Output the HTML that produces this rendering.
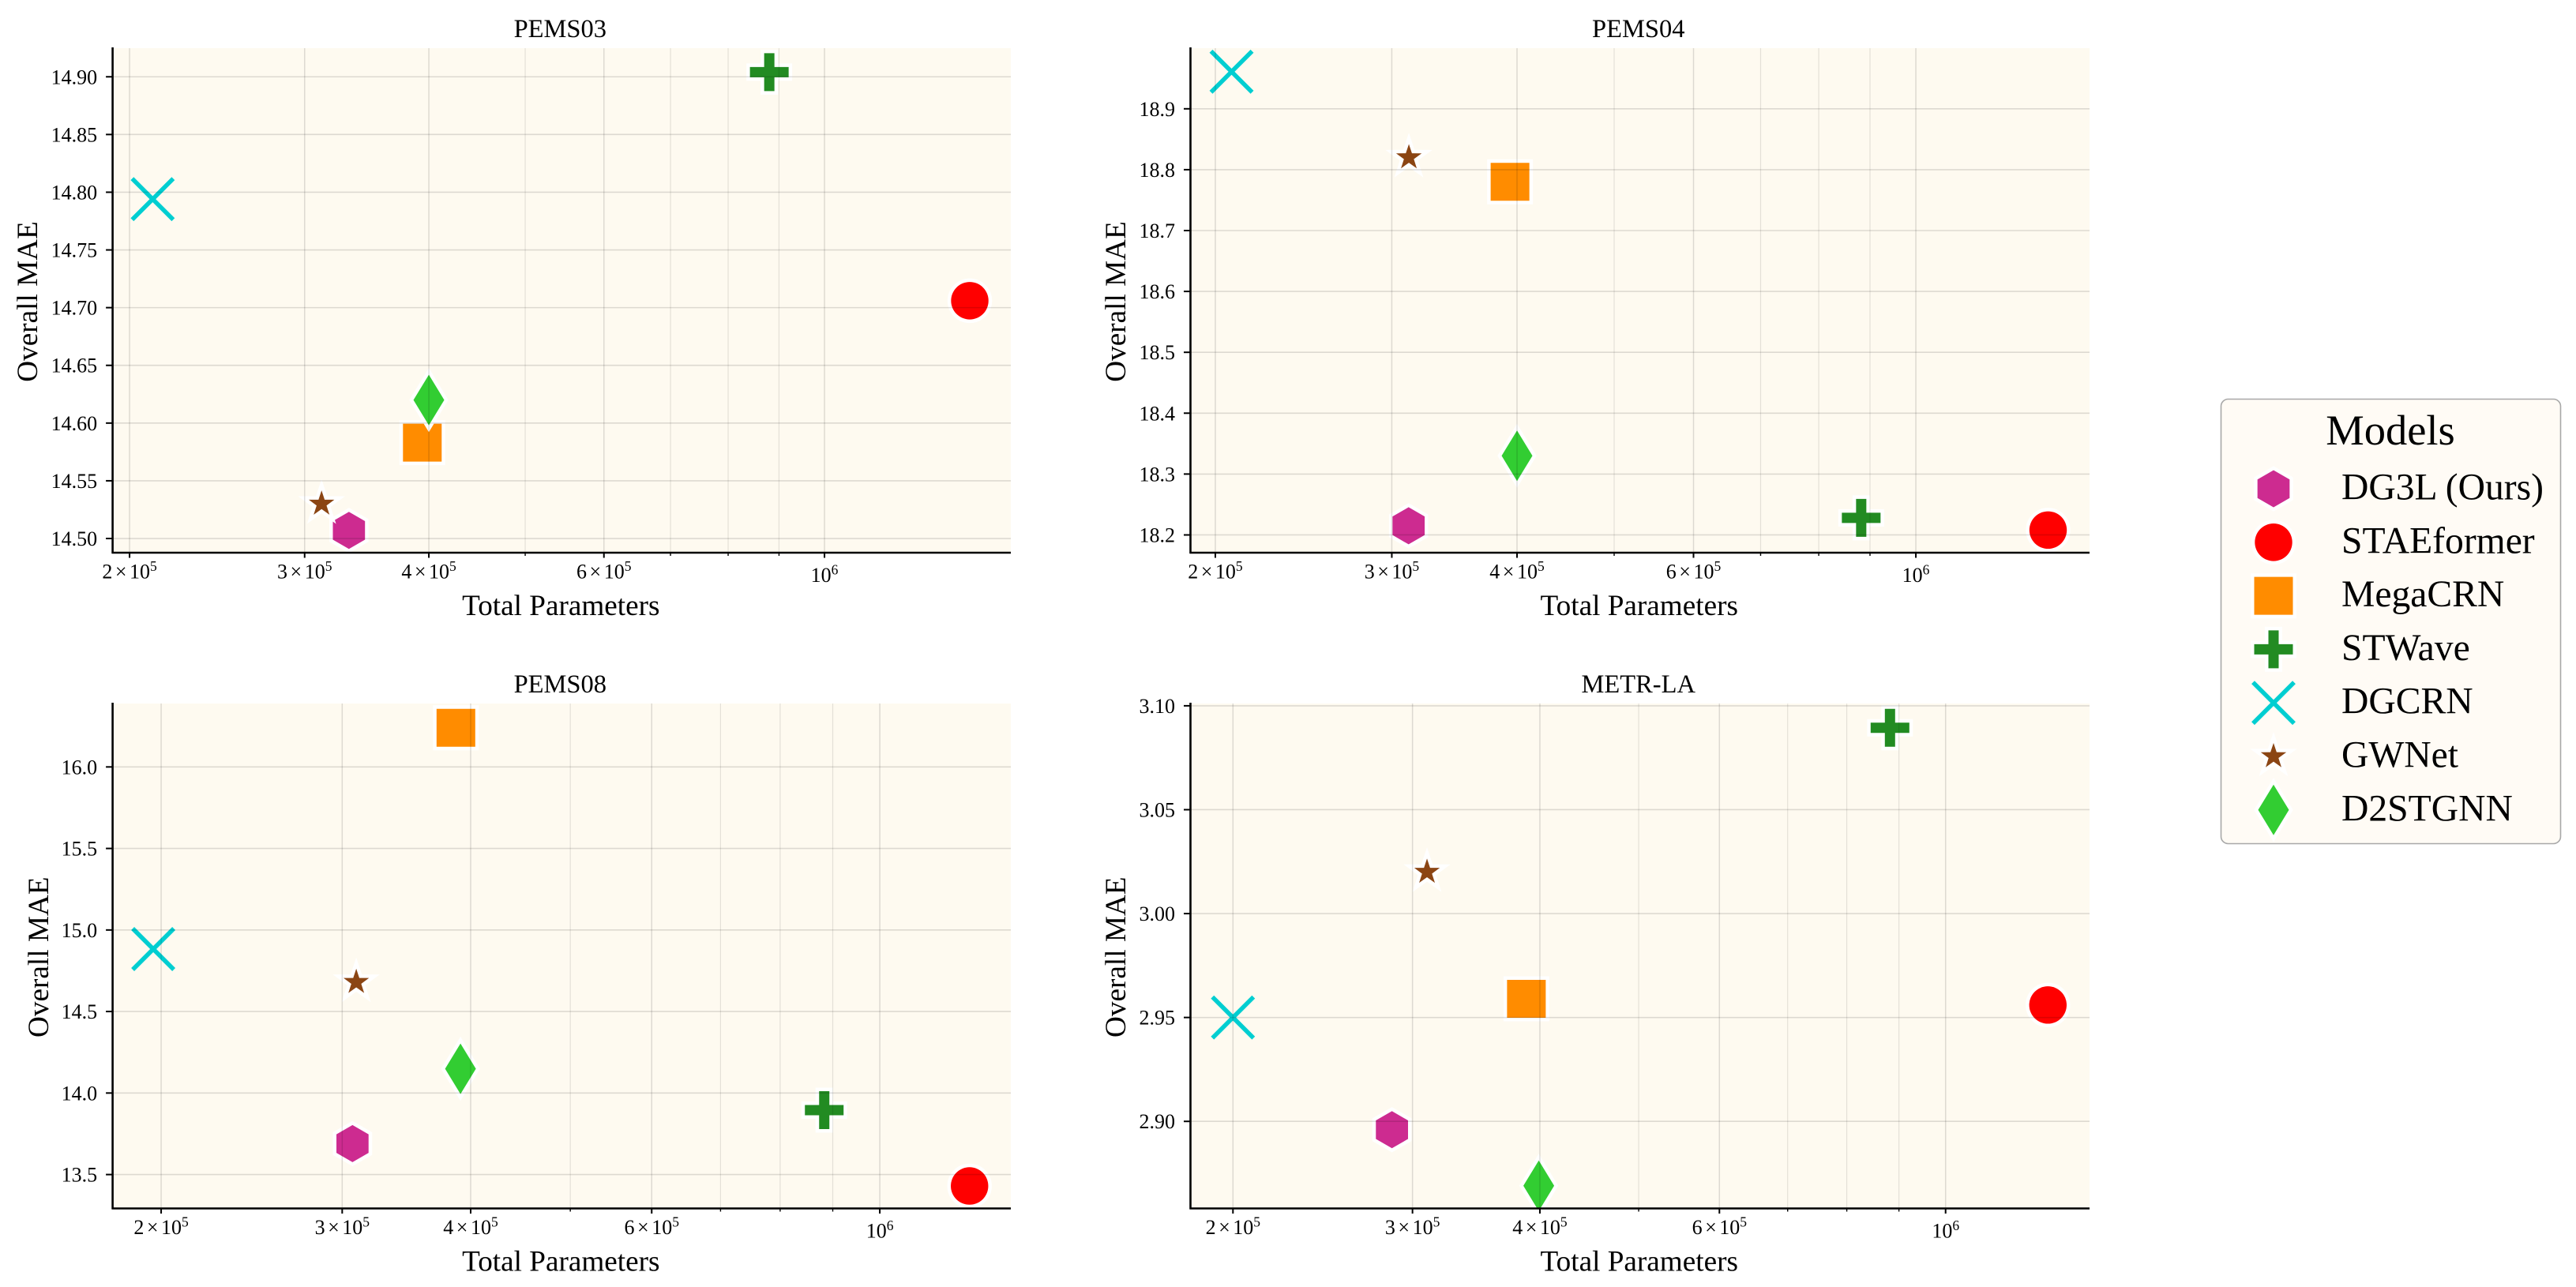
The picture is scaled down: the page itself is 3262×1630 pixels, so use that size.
<!DOCTYPE html>
<html lang="en">
<head>
<meta charset="utf-8">
<title>Overall MAE vs Total Parameters</title>
<style>
html,body{margin:0;padding:0;background:#fff;width:3262px;height:1630px;overflow:hidden}
svg{display:block}
text{font-family:"Liberation Serif","Times New Roman",serif;fill:#000}
</style>
</head>
<body>
<svg id="figure" xmlns="http://www.w3.org/2000/svg" width="3262" height="1630" viewBox="0 0 3262 1630">
  <g id="panels"></g>
  <g id="legend">
    <rect x="2812.5" y="505.5" width="430" height="563" rx="9" ry="9" fill="#fffbf5" stroke="#a8a8a8" stroke-width="1.6"/>
    <text x="3027" y="563" font-size="54.5" text-anchor="middle">Models</text>
  </g>
</svg>
<script>
// Shared data
const models = ['DG3L (Ours)', 'STAEformer', 'MegaCRN', 'STWave', 'DGCRN', 'GWNet', 'D2STGNN'];
const shapes = ['hexagon', 'circle', 'square', 'plus', 'cross', 'star', 'diamond'];
const colors = ['#CD2B90', '#FF0000', '#FF8C00', '#228B22', '#00CED1', '#8B4513', '#32CD32'];
const xMajorTicks = [200000, 300000, 400000, 600000, 1000000];
const xMinorTicks = [500000, 700000, 800000, 900000];

// PEMS03
const params03 = [332400, 1400000, 394000, 880000, 211000, 312000, 400000];
const mae03 = [14.507, 14.706, 14.583, 14.904, 14.794, 14.53, 14.62];
const yTicks03 = ['14.50', '14.55', '14.60', '14.65', '14.70', '14.75', '14.80', '14.85', '14.90'];
const xDomain03 = [192300, 1539600];
const yDomain03 = [14.4877, 14.9248];

// PEMS04
const params04 = [311800, 1355000, 393600, 882000, 207600, 312000, 400000];
const mae04 = [18.215, 18.208, 18.78, 18.228, 18.961, 18.82, 18.33];
const yTicks04 = ['18.2', '18.3', '18.4', '18.5', '18.6', '18.7', '18.8', '18.9'];
const xDomain04 = [188900, 1490400];
const yDomain04 = [18.1708, 18.9996];

// PEMS08
const params08 = [307000, 1222600, 387000, 883000, 196500, 309600, 391000];
const mae08 = [13.69, 13.43, 16.24, 13.895, 14.883, 14.68, 14.149];
const yTicks08 = ['13.5', '14.0', '14.5', '15.0', '15.5', '16.0'];
const xDomain08 = [179400, 1341000];
const yDomain08 = [13.2922, 16.389];

// METR-LA
const paramsLA = [286400, 1260000, 388000, 882000, 200000, 310000, 399000];
const maeLA = [2.896, 2.956, 2.959, 3.0894, 2.95, 3.02, 2.869];
const yTicksLA = ['2.90', '2.95', '3.00', '3.05', '3.10'];
const xDomainLA = [181700, 1384200];
const yDomainLA = [2.8581, 3.1011];

const NS = 'http://www.w3.org/2000/svg';

function make(tag, attrs, parent) {
  const node = document.createElementNS(NS, tag);
  for (const key in attrs) node.setAttribute(key, attrs[key]);
  parent.appendChild(node);
  return node;
}

function markerPath(shape, cx, cy) {
  const pts = [];
  const poly = list => 'M' + list.map(p => (cx + p[0]).toFixed(2) + ' ' + (cy + p[1]).toFixed(2)).join('L') + 'Z';
  if (shape === 'hexagon') {
    for (let i = 0; i < 6; i++) {
      const a = Math.PI / 3 * i;
      pts.push([23.5 * Math.sin(a), -23.5 * Math.cos(a)]);
    }
    return poly(pts);
  }
  if (shape === 'circle') {
    const r = 23.7;
    return `M${cx - r} ${cy}A${r} ${r} 0 1 0 ${cx + r} ${cy}A${r} ${r} 0 1 0 ${cx - r} ${cy}Z`;
  }
  if (shape === 'square') {
    return poly([[-24.5, -24], [24.5, -24], [24.5, 24], [-24.5, 24]]);
  }
  if (shape === 'plus') {
    const a = 24.5, b = 24, t = 6.5;
    return poly([[-t, -b], [t, -b], [t, -t], [a, -t], [a, t], [t, t], [t, b], [-t, b], [-t, t], [-a, t], [-a, -t], [-t, -t]]);
  }
  if (shape === 'cross') {
    const h = 26;
    return `M${cx - h} ${cy - h}L${cx + h} ${cy + h}M${cx - h} ${cy + h}L${cx + h} ${cy - h}`;
  }
  if (shape === 'star') {
    for (let i = 0; i < 10; i++) {
      const a = Math.PI / 5 * i;
      const r = i % 2 === 0 ? 17 : 6.6;
      pts.push([r * Math.sin(a), -r * Math.cos(a)]);
    }
    return poly(pts);
  }
  return poly([[0, -32], [19.5, 0], [0, 32], [-19.5, 0]]);
}

function drawMarker(index, cx, cy, parent) {
  const shape = shapes[index];
  const color = colors[index];
  if (shape === 'cross') {
    return make('path', { d: markerPath(shape, cx, cy), fill: 'none', stroke: color, 'stroke-width': 5.5 }, parent);
  }
  return make('path', {
    d: markerPath(shape, cx, cy), fill: color, stroke: '#ffffff', 'stroke-width': 9,
    'stroke-linejoin': 'miter', 'stroke-miterlimit': 8, 'paint-order': 'stroke'
  }, parent);
}

function drawPanel(cfg, index) {
  const xScale = v => cfg.left + (cfg.right - cfg.left) * Math.log10(v / cfg.xDomain[0]) / Math.log10(cfg.xDomain[1] / cfg.xDomain[0]);
  const yScale = v => cfg.bottom - (cfg.bottom - cfg.top) * (v - cfg.yDomain[0]) / (cfg.yDomain[1] - cfg.yDomain[0]);
  const root = document.getElementById('panels');

  const panel = make('g', {}, root);
  
  

  const plotBg = make('rect', { x: cfg.left, y: cfg.top, width: cfg.right - cfg.left, height: cfg.bottom - cfg.top, fill: '#fefaf0' }, panel);
  
  

  const clipId = 'clip' + index;
  const clip = make('clipPath', { id: clipId }, panel);
  make('rect', { x: cfg.left, y: cfg.top, width: cfg.right - cfg.left, height: cfg.bottom - cfg.top }, clip);

  const points = make('g', { 'clip-path': `url(#${clipId})` }, panel);
  
  
  cfg.params.forEach((p, i) => {
    const mark = drawMarker(i, xScale(p), yScale(cfg.mae[i]), points);
    
    
  });

  const grid = make('g', { stroke: '#000000', fill: 'none' }, panel);
  
  
  xMajorTicks.forEach(v => {
    const gridX = make('line', { x1: xScale(v), x2: xScale(v), y1: cfg.top, y2: cfg.bottom, 'stroke-width': 1.5, 'stroke-opacity': 0.13 }, grid);
    
    
  });
  xMinorTicks.forEach(v => {
    const gridMinor = make('line', { x1: xScale(v), x2: xScale(v), y1: cfg.top, y2: cfg.bottom, 'stroke-width': 1.2, 'stroke-opacity': 0.1 }, grid);
    
    
  });
  cfg.yTicks.forEach(t => {
    const y = yScale(parseFloat(t));
    const gridY = make('line', { x1: cfg.left, x2: cfg.right, y1: y, y2: y, 'stroke-width': 1.6, 'stroke-opacity': 0.13 }, grid);
    
    
  });

  const axes = make('g', { stroke: '#000000', fill: 'none' }, panel);
  
  
  const spineLeft = make('line', { x1: cfg.left, x2: cfg.left, y1: cfg.top - 1, y2: cfg.bottom + 1, 'stroke-width': 2.6 }, axes);
  
  
  const spineBottom = make('line', { x1: cfg.left - 1, x2: cfg.right, y1: cfg.bottom, y2: cfg.bottom, 'stroke-width': 2.4 }, axes);
  
  

  cfg.yTicks.forEach(t => {
    const y = yScale(parseFloat(t));
    const tick = make('line', { x1: cfg.left - 8.5, x2: cfg.left, y1: y, y2: y, 'stroke-width': 2 }, axes);
    
    
    const label = make('text', { x: cfg.left - 19.5, y: y + 9, 'font-size': 26, 'text-anchor': 'end', stroke: 'none' }, panel);
    label.textContent = t;
    
    
  });

  xMinorTicks.forEach(v => {
    const minorTick = make('line', { x1: xScale(v), x2: xScale(v), y1: cfg.bottom, y2: cfg.bottom + 4, 'stroke-width': 1.4 }, axes);
    
    
  });

  xMajorTicks.forEach(v => {
    const x = xScale(v);
    const majorTick = make('line', { x1: x, x2: x, y1: cfg.bottom, y2: cfg.bottom + 6.5, 'stroke-width': 2 }, axes);
    
    
    const exponent = Math.floor(Math.log10(v) + 1e-9);
    const mantissa = Math.round(v / Math.pow(10, exponent));
    const baseline = cfg.bottom + (mantissa === 1 ? 37 : 32.5);
    const label = make('text', { x: x, y: baseline, 'font-size': 26, 'text-anchor': 'middle' }, panel);
    
    
    if (mantissa !== 1) {
      make('tspan', {}, label).textContent = String(mantissa);
      make('tspan', { dx: 3.5 }, label).textContent = '\u00D7';
      make('tspan', { dx: 3.5 }, label).textContent = '10';
    } else {
      make('tspan', {}, label).textContent = '10';
    }
    make('tspan', { dy: -9.5, 'font-size': 17.5 }, label).textContent = String(exponent);
  });

  const title = make('text', { x: (cfg.left + cfg.right) / 2 - 2, y: cfg.top - 14, 'font-size': 32.5, 'text-anchor': 'middle' }, panel);
  title.textContent = cfg.title;
  
  

  const xTitle = make('text', { x: (cfg.left + cfg.right) / 2 - 1, y: cfg.bottom + 79, 'font-size': 37.2, 'text-anchor': 'middle' }, panel);
  xTitle.textContent = 'Total Parameters';
  
  

  const yMid = (cfg.top + cfg.bottom) / 2 + 1.5;
  const yTitle = make('text', { x: 0, y: 0, 'font-size': 37.2, 'text-anchor': 'middle', transform: `translate(${cfg.yTitleX} ${yMid}) rotate(-90)` }, panel);
  yTitle.textContent = 'Overall MAE';
  
  
}

drawPanel({ title: 'PEMS03', left: 142.6, right: 1280, top: 61, bottom: 700, yTitleX: 47, params: params03, mae: mae03, yTicks: yTicks03, xDomain: xDomain03, yDomain: yDomain03 }, 0);
drawPanel({ title: 'PEMS04', left: 1507.5, right: 2646, top: 61, bottom: 700, yTitleX: 1425, params: params04, mae: mae04, yTicks: yTicks04, xDomain: xDomain04, yDomain: yDomain04 }, 1);
drawPanel({ title: 'PEMS08', left: 142.6, right: 1280, top: 891, bottom: 1530.5, yTitleX: 61, params: params08, mae: mae08, yTicks: yTicks08, xDomain: xDomain08, yDomain: yDomain08 }, 2);
drawPanel({ title: 'METR-LA', left: 1507.5, right: 2646, top: 891, bottom: 1530.5, yTitleX: 1425, params: paramsLA, mae: maeLA, yTicks: yTicksLA, xDomain: xDomainLA, yDomain: yDomainLA }, 3);

const legendRoot = document.getElementById('legend');
models.forEach((name, i) => {
  const rowY = 619 + i * 67.8;
  const row = make('g', {}, legendRoot);
  
  
  const swatch = drawMarker(i, 2879, rowY, row);
  
  
  const label = make('text', { x: 2965, y: rowY + 13.5, 'font-size': 47.6 }, row);
  label.textContent = name;
  
  
});
</script>
</body>
</html>
